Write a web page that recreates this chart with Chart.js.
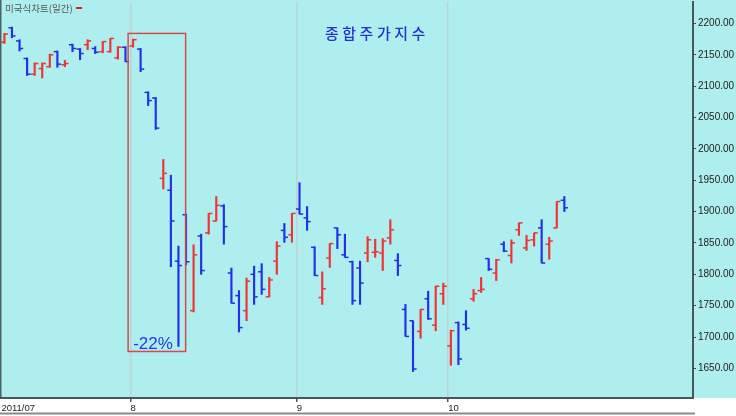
<!DOCTYPE html>
<html>
<head>
<meta charset="utf-8">
<script src="https://cdn.jsdelivr.net/npm/chart.js@4.4.0/dist/chart.umd.min.js"></script>
<style>
  html, body { margin: 0; padding: 0; background: #fff; }
  canvas { display: block; }
</style>
</head>
<body>
<canvas id="kospiChart" width="736" height="416"></canvas>
<script>
// trading days, Jul 7 - Oct 25 2011
const dates = [
  "07/07","07/08","07/11","07/12","07/13","07/14","07/15","07/18","07/19","07/20","07/21","07/22","07/25","07/26","07/27","07/28","07/29",
  "08/01","08/02","08/03","08/04","08/05","08/08","08/09","08/10","08/11","08/12","08/16","08/17","08/18","08/19","08/22","08/23","08/24","08/25","08/26","08/29","08/30","08/31",
  "09/01","09/02","09/05","09/06","09/07","09/08","09/09","09/14","09/15","09/16","09/19","09/20","09/21","09/22","09/23","09/26","09/27","09/28","09/29","09/30",
  "10/04","10/05","10/06","10/07","10/10","10/11","10/12","10/13","10/14","10/17","10/18","10/19","10/20","10/21","10/24","10/25"
];
const opens = [
  2170,2193,2172,2144,2119,2128,2131,2155,2134,2166,2159,2166,2160,2155,2155,2145,2162,
  2164,2159,2090,2081,1953,1934,1821,1895,1742,1861,1866,1885,1909,1802,1766,1742,1800,1804,1764,1821,1870,1863,
  1904,1890,1843,1763,1826,1874,1831,1820,1810,1834,1835,1834,1858,1822,1744,1726,1709,1761,1719,1769,
  1686,1723,1720,1761,1774,1825,1802,1848,1830,1871,1842,1855,1874,1848,1874,1918
];
const highs = [
  2184,2194,2174,2145,2137,2137,2151,2156,2141,2167,2160,2174,2163,2171,2176,2163,2163,
  2175,2160,2091,2082,1983,1958,1845,1896,1847,1864,1897,1924,1911,1810,1774,1794,1813,1817,1795,1852,1881,1897,
  1946,1908,1844,1804,1849,1874,1864,1821,1821,1860,1856,1857,1887,1833,1752,1726,1744,1773,1781,1786,
  1711,1724,1742,1776,1795,1825,1824,1852,1855,1882,1862,1866,1887,1859,1916,1924
];
const lows = [
  2168,2177,2156,2117,2117,2113,2130,2130,2131,2155,2142,2158,2152,2153,2154,2143,2139,
  2162,2123,2069,2031,1936,1812,1685,1815,1740,1800,1864,1885,1848,1754,1708,1726,1752,1768,1764,1800,1851,1851,
  1896,1870,1798,1752,1811,1841,1827,1752,1752,1820,1827,1806,1848,1798,1701,1645,1698,1728,1710,1752,
  1655,1656,1711,1757,1771,1806,1790,1836,1818,1862,1838,1845,1818,1824,1874,1900
];
const closes = [
  2183,2180,2160,2119,2136,2136,2150,2135,2136,2160,2152,2172,2154,2171,2176,2162,2139,
  2174,2127,2077,2033,1961,1885,1814,1820,1831,1806,1897,1910,1876,1754,1715,1789,1764,1776,1791,1845,1859,1897,
  1896,1884,1798,1777,1849,1863,1827,1758,1786,1855,1836,1853,1871,1814,1701,1649,1744,1729,1781,1781,
  1710,1665,1714,1769,1776,1808,1823,1837,1850,1882,1854,1866,1818,1853,1916,1906
];
const yTicks = [1650, 1700, 1750, 1800, 1850, 1900, 1950, 2000, 2050, 2100, 2150, 2200];
const firstLabel = "2011/07";
// the boxed crash: Aug 1 .. Aug 10, and its label
const crashBox = { from: 16.35, to: 23.95, low: 1677, high: 2184 };
const crashText = "-22%";
const titleText = "종합주가지수";
const panelText = "미국식차트(일간)";

const upColor = "rgb(238,52,52)";
const downColor = "rgb(34,48,232)";
const bg = "#afeeee";
const narrow = "'Liberation Sans Narrow', 'Liberation Sans', Arial, sans-serif";

// month ticks sit just before the first trading day of each month
const monthTicks = [-0.396];
const monthLabels = [firstLabel];
dates.forEach((d, i) => {
  if (i > 0 && d.slice(0, 2) !== dates[i - 1].slice(0, 2)) {
    monthTicks.push(i - 0.35);
    monthLabels.push(String(Number(d.slice(0, 2))));
  }
});

const colors = closes.map((c, i) => (c >= opens[i] ? upColor : downColor));
const tickShift = 0.24;

const backdrop = {
  id: "backdrop",
  beforeDraw(chart) {
    const { ctx, chartArea, width, height } = chart;
    ctx.save();
    ctx.fillStyle = "#fff";
    ctx.fillRect(0, 0, width, height);
    ctx.fillStyle = bg;
    ctx.fillRect(0, 0, width, chartArea.bottom);
    // left frame + bottom rule
    ctx.fillStyle = "#4a6464";
    ctx.fillRect(0, 0, 1.5, chartArea.bottom);
    ctx.fillStyle = "#8a8a8a";
    ctx.fillRect(0, height - 3.5, chartArea.right + 2, 2);
    ctx.restore();
  }
};

const notes = {
  id: "notes",
  afterDatasetsDraw(chart) {
    const { ctx } = chart;
    const x = chart.scales.x, y = chart.scales.y;
    const x0 = x.getPixelForValue(crashBox.from), x1 = x.getPixelForValue(crashBox.to);
    const y0 = y.getPixelForValue(crashBox.high), y1 = y.getPixelForValue(crashBox.low);
    ctx.save();
    ctx.strokeStyle = "#d84a4a";
    ctx.lineWidth = 1.5;
    ctx.strokeRect(x0, y0, x1 - x0, y1 - y0);

    ctx.fillStyle = "rgb(40,56,232)";
    ctx.font = "17px 'Liberation Sans', Arial, sans-serif";
    ctx.textAlign = "left";
    ctx.textBaseline = "alphabetic";
    ctx.fillText(crashText, x0 + 5, y1 - 2);

    ctx.fillStyle = "rgb(40,50,210)";
    ctx.font = "500 15px 'Noto Sans CJK KR', sans-serif";
    ctx.letterSpacing = "3.5px";
    ctx.textBaseline = "middle";
    ctx.fillText(titleText, 325, 33);
    ctx.letterSpacing = "0px";

    ctx.fillStyle = "#555";
    ctx.font = "9.5px 'Noto Sans CJK KR', sans-serif";
    ctx.fillText(panelText, 5, 8);
    ctx.fillStyle = "#e02020";
    ctx.fillRect(76, 7, 6, 2);
    ctx.restore();
  }
};

new Chart(document.getElementById("kospiChart"), {
  type: "bar",
  data: {
    datasets: [
      {
        type: "bar",
        data: dates.map((d, i) => ({ x: i, y: [lows[i], highs[i]] })),
        backgroundColor: colors,
        borderWidth: 0,
        barThickness: 1.5,
        grouped: false
      },
      {
        type: "scatter",
        data: dates.map((d, i) => ({ x: i - tickShift, y: opens[i] })),
        pointStyle: "line",
        pointRadius: 1.8,
        pointHoverRadius: 1.8,
        pointBorderWidth: 1.5,
        pointBorderColor: colors
      },
      {
        type: "scatter",
        data: dates.map((d, i) => ({ x: i + tickShift, y: closes[i] })),
        pointStyle: "line",
        pointRadius: 1.8,
        pointHoverRadius: 1.8,
        pointBorderWidth: 1.5,
        pointBorderColor: colors
      }
    ]
  },
  options: {
    responsive: false,
    animation: false,
    events: [],
    layout: { autoPadding: false, padding: { left: 1, top: 2, right: 0, bottom: 0 } },
    plugins: {
      legend: { display: false },
      tooltip: { enabled: false },
      title: { display: false }
    },
    scales: {
      x: {
        type: "linear",
        position: "bottom",
        min: -0.45,
        max: 91.0,
        offset: false,
        afterBuildTicks: ax => { ax.ticks = monthTicks.map(v => ({ value: v })); },
        afterFit: ax => {
          ax.height = 18;
          ax.paddingLeft = 0;
          ax.paddingRight = 0;
        },
        ticks: {
          callback: (v, i) => monthLabels[i],
          align: "start",
          autoSkip: false,
          maxRotation: 0,
          padding: 1,
          color: "#222",
          font: { size: 9.5, family: narrow }
        },
        grid: {
          offset: false,
          color: c => (c.index === 0 ? "rgba(0,0,0,0)" : "#c2d2d2"),
          lineWidth: 1.5,
          tickLength: 4,
          tickColor: c => (c.index === 0 ? "rgba(0,0,0,0)" : "#555")
        },
        border: { color: "#4a5656", width: 2 }
      },
      y: {
        position: "right",
        min: 1602.8,
        max: 2234.1,
        afterBuildTicks: ax => { ax.ticks = yTicks.map(v => ({ value: v })); },
        afterFit: ax => {
          ax.width = 43;
          ax.paddingTop = 0;
          ax.paddingBottom = 0;
        },
        ticks: {
          callback: v => v.toFixed(2),
          padding: 2,
          color: "#222",
          font: { size: 10, family: narrow }
        },
        grid: { drawOnChartArea: false, tickLength: 3, tickColor: "#444" },
        border: { color: "#4a5656", width: 2 }
      }
    }
  },
  plugins: [backdrop, notes]
});
</script>
</body>
</html>
